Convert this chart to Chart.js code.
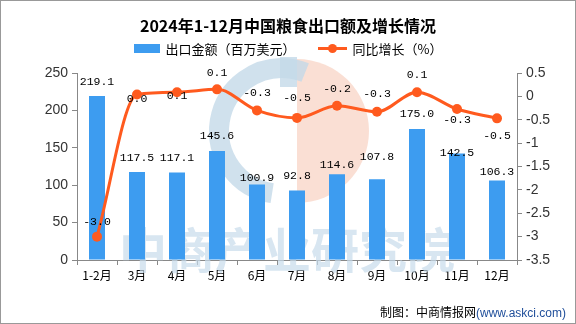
<!DOCTYPE html>
<html>
<head>
<meta charset="utf-8">
<script src="https://cdn.jsdelivr.net/npm/chart.js@4.4.1/dist/chart.umd.min.js"></script>
<style>
    body { margin: 0; background: #fff; }
    #wrap { position: relative; width: 576px; height: 324px; overflow: hidden; background: #fff; }
    #frame { position: absolute; left: 0; top: 0; width: 576px; height: 324px; box-sizing: border-box; border: 1px solid #999; pointer-events: none; }
    #title { position: absolute; top: 13px; left: 0; width: 576px; text-align: center; font: bold 16px "Noto Sans CJK SC"; color: #000; }
    #legend { position: absolute; top: 39px; left: 0; width: 576px; display: flex; justify-content: center; align-items: center; font: 13px "Noto Sans CJK SC"; color: #000; }
    .box { width: 26px; height: 9px; background: #3D9CF0; margin-right: 6px; }
    .ln { position: relative; width: 29px; height: 3px; background: #FF5A1E; margin: 0 6px 0 22px; }
    .ln::after { content: ""; position: absolute; left: 10px; top: -3px; width: 9px; height: 9px; border-radius: 50%; background: #FF5A1E; }
    #footer { position: absolute; right: 10px; top: 303px; font: 12px "Noto Sans CJK SC"; color: #000; }
    #footer span { color: #1F4E9A; font-family: "Liberation Sans"; }
</style>
</head>
<body>
<div id="wrap">
    <canvas id="chart" width="576" height="324"></canvas>
    <div id="title">2024年1-12月中国粮食出口额及增长情况</div>
    <div id="legend"><div class="box"></div>出口金额（百万美元）<div class="ln"></div>同比增长（%）</div>
    <div id="footer">制图：中商情报网<span>(www.askci.com)</span></div>
    <div id="frame"></div>
</div>
<script>
const months = ['1-2月', '3月', '4月', '5月', '6月', '7月', '8月', '9月', '10月', '11月', '12月'];
const exportValue = [219.1, 117.5, 117.1, 145.6, 100.9, 92.8, 114.6, 107.8, 175.0, 142.5, 106.3];
const yoyGrowth = [-3.0, 0.04, 0.09, 0.15, -0.3, -0.46, -0.2, -0.33, 0.09, -0.27, -0.47];

// label nudges (px, from the mark) so they sit like in the original
const barLabelShift = [-14, -14, -14, -15, -7, -15, -9, -22, -15, 0, -9];
const lineLabelShift = [-15, 4, 4, -16, -17, -20, -17, -18, -17, 11, 18];

const BLUE = '#3D9CF0';
const ORANGE = '#FF5A1E';

const watermark = {
    id: 'watermark',
    beforeDatasetsDraw(chart) {
        const ctx = chart.ctx;
        ctx.save();
        // logo
        ctx.fillStyle = 'rgba(246,196,176,0.55)';
        ctx.beginPath();
        ctx.arc(297, 131, 72, -Math.PI / 2, Math.PI / 2);
        ctx.closePath();
        ctx.fill();
        ctx.strokeStyle = 'rgba(196,218,232,0.8)';
        ctx.lineWidth = 20;
        ctx.beginPath();
        ctx.arc(282, 131, 63, Math.PI * 0.55, Math.PI * 1.62);
        ctx.stroke();
        ctx.fillStyle = 'rgba(196,218,232,0.8)';
        ctx.fillRect(280, 57, 17, 30);
        // text
        ctx.fillStyle = 'rgba(200,220,235,0.7)';
        ctx.font = 'bold 48px "Noto Sans CJK SC"';
        ctx.textAlign = 'center';
        ctx.textBaseline = 'middle';
        ctx.fillText('中商产业研究院', 287, 250);
        ctx.restore();
    }
};

const valueLabels = {
    id: 'valueLabels',
    afterDatasetsDraw(chart) {
        const ctx = chart.ctx;
        ctx.save();
        ctx.font = '11.5px "Liberation Mono"';
        ctx.fillStyle = '#000';
        ctx.textAlign = 'center';
        ctx.textBaseline = 'middle';
        chart.getDatasetMeta(1).data.forEach((el, i) => {
            ctx.fillText(exportValue[i].toFixed(1), el.x, el.y + barLabelShift[i]);
        });
        chart.getDatasetMeta(0).data.forEach((el, i) => {
            ctx.fillText(yoyGrowth[i].toFixed(1), el.x, el.y + lineLabelShift[i]);
        });
        ctx.restore();
    }
};

const axisGrid = { drawOnChartArea: false, tickLength: 5, color: '#888' };

new Chart(document.getElementById('chart').getContext('2d'), {
    type: 'bar',
    data: {
        labels: months,
        datasets: [
            {
                type: 'line',
                label: '同比增长（%）',
                data: yoyGrowth,
                yAxisID: 'y1',
                borderColor: ORANGE,
                backgroundColor: ORANGE,
                borderWidth: 3,
                pointRadius: 5,
                pointBackgroundColor: ORANGE,
                pointBorderWidth: 0,
                cubicInterpolationMode: 'monotone',
                order: 0
            },
            {
                label: '出口金额（百万美元）',
                data: exportValue,
                yAxisID: 'y',
                backgroundColor: BLUE,
                barPercentage: 0.4,
                categoryPercentage: 1,
                order: 1
            }
        ]
    },
    options: {
        responsive: false,
        animation: false,
        layout: { padding: { top: 73, bottom: 34, left: 0, right: 0 } },
        plugins: {
            legend: { display: false },
            title: { display: false },
            tooltip: { enabled: false }
        },
        scales: {
            x: {
                grid: axisGrid,
                border: { color: '#888' },
                ticks: { color: '#000', font: { family: 'Noto Sans CJK SC', size: 12 }, padding: 3, maxRotation: 0 },
                afterFit(s) { s.height = 30; }
            },
            y: {
                position: 'left',
                min: 0, max: 250,
                ticks: { stepSize: 50, color: '#333', font: { family: 'Liberation Sans', size: 14 }, padding: 4 },
                grid: axisGrid,
                border: { color: '#888' },
                afterFit(s) { s.width = 77; }
            },
            y1: {
                position: 'right',
                min: -3.5, max: 0.5,
                ticks: {
                    stepSize: 0.5, color: '#333', font: { family: 'Liberation Sans', size: 14 }, padding: 4,
                    callback: (v) => String(Math.round(v * 10) / 10)
                },
                grid: axisGrid,
                border: { color: '#888' },
                afterFit(s) { s.width = 59; }
            }
        }
    },
    plugins: [watermark, valueLabels]
});
</script>
</body>
</html>
